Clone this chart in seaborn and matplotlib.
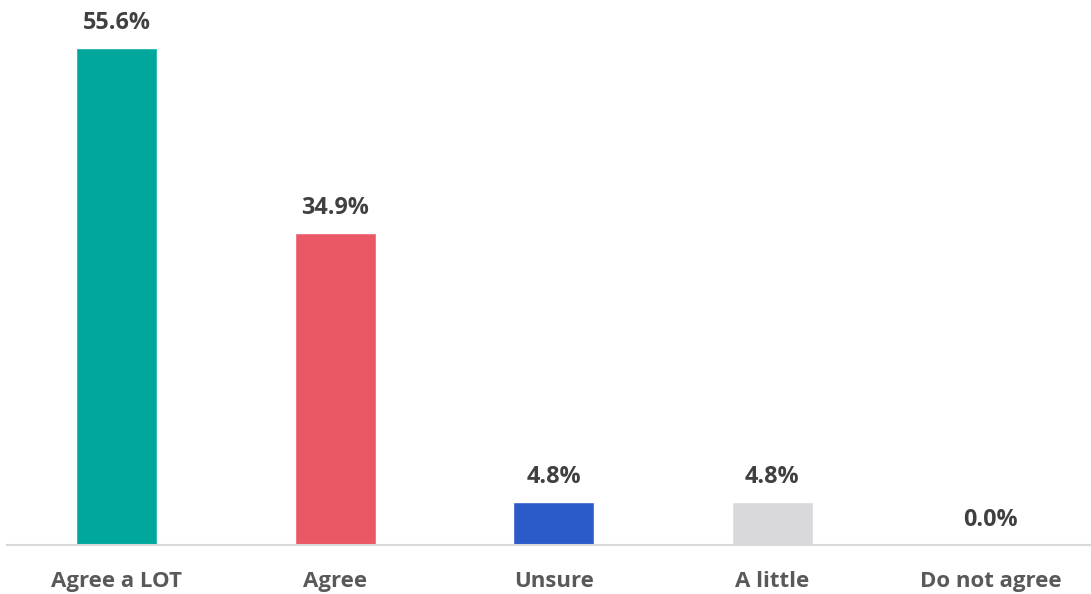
import matplotlib
matplotlib.use("Agg")
import matplotlib.pyplot as plt
import seaborn as sns
import pandas as pd

categories = ["Agree a LOT", "Agree", "Unsure", "A little", "Do not agree"]
values = [55.6, 34.9, 4.8, 4.8, 0.0]
colors = ["#00A79D", "#EA5865", "#2A5BC8", "#D9D9DB", "#BFBFBF"]

sns.set_theme(style="white")
plt.rcParams['font.family'] = ['Open Sans', 'DejaVu Sans']

df = pd.DataFrame({"cat": categories, "val": values})

fig = plt.figure(figsize=(10.91, 5.94), dpi=100)
ax = fig.add_axes([7.2 / 1091, 49 / 594, 1093 / 1091, 545 / 594])

sns.barplot(data=df, x="cat", y="val", hue="cat", palette=colors, legend=False,
            width=0.37, ax=ax, saturation=1)

ax.set_xlim(-0.5, 4.5)
ax.set_ylim(0, 545 / 8.94)

for i, v in enumerate(values):
    ax.annotate(f"{v:.1f}%", (i, v), xytext=(0, 25), textcoords="offset pixels",
                ha="center", va="center", fontsize=16.8, fontweight="bold", color="#404040")

ax.set_xlabel("")
ax.set_ylabel("")
ax.set_yticks([])
ax.tick_params(axis="x", length=0, pad=19, labelsize=16, labelcolor="#595959")
for lbl in ax.get_xticklabels():
    lbl.set_fontweight("bold")
for s in ["top", "right", "left"]:
    ax.spines[s].set_visible(False)
ax.spines["bottom"].set_color("#D9D9D9")
ax.spines["bottom"].set_linewidth(1.5)

fig.savefig("out.png", dpi=100)
